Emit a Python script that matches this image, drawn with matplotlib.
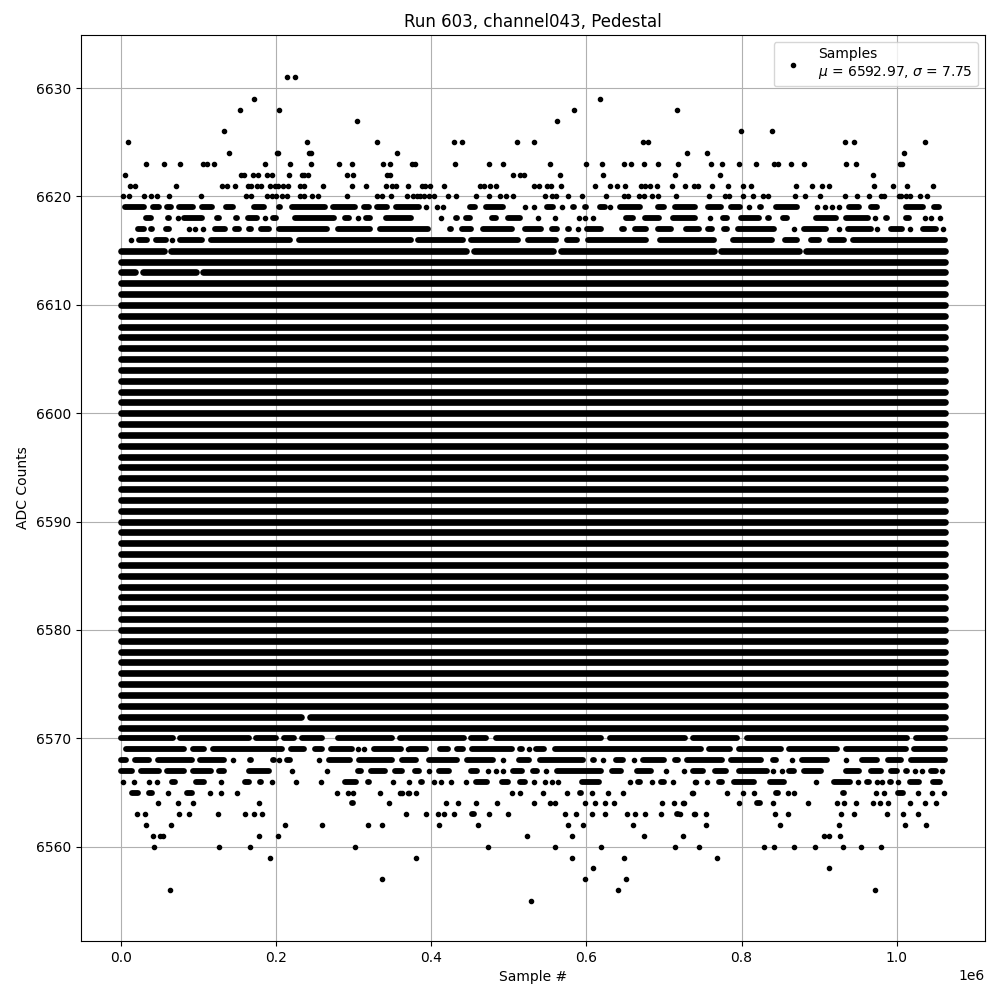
import matplotlib
matplotlib.use("Agg")
import matplotlib.pyplot as plt

# values; sample positions in thousands of samples
title = "Run 603, channel043, Pedestal"
x_label = "Sample #"
y_label = "ADC Counts"
legend_label = "Samples\n$\\mu$ = 6592.97, $\\sigma$ = 7.75"

# isolated samples, per ADC level
points = {
    6631: [214.4, 224.8],
    6629: [171.9, 617],
    6628: [153.8, 204.1, 583.6, 717],
    6627: [304.7, 562.6],
    6626: [133.2, 799.7, 839.7],
    6625: [9.5, 240.2, 330.4, 428.8, 439, 511, 532, 672.6, 679, 933.7, 945.5, 1037],
    6624: [139.7, 200.5, 202, 242.4, 244.5, 356.2, 729, 755.9, 1009.8],
    6623: [32.7, 55.9, 76.5, 105.3, 110.4, 120.3, 186, 218.3, 245.3, 281.5, 298.2, 338.2, 347.2,
           375, 379, 431, 475, 492, 552.6, 600, 619.7, 648, 658, 674, 692, 717.8, 760, 775, 797,
           818, 842, 847.4, 864, 881, 935, 947, 1004, 1007],
    6622: [5.6, 155, 158.6, 170.6, 177, 188.6, 194.7, 217, 232.9, 236.3, 241.5, 291.8, 298.6,
           343.3, 346.8, 505, 514.8, 520, 565.5, 621, 714, 772.6, 970],
    6621: [12, 17.6, 71.3, 130.6, 137, 147.4, 163.7, 167, 175.7, 180, 192.5, 198.5, 202.8, 209.3,
           214.9, 230.7, 235.9, 260.8, 298.2, 316.3, 342, 349.8, 354.5, 369.5, 388, 392, 398, 417,
           463, 467.5, 476, 483.4, 532, 538.5, 549, 554, 566.8, 610.7, 631, 639, 649.4, 670.5,
           676, 682.5, 690.7, 710, 727.5, 739, 744, 762, 783, 802, 812.6, 870.6, 891, 904, 913,
           971, 995.6, 1013.7, 1047],
    6620: [3, 9.9, 30, 39.1, 46.8, 62.3, 103.6, 161.6, 167.2, 188.6, 194.2, 199.8, 207.1, 214.4,
           230.7, 235.9, 246.6, 254.4, 291.8, 330.4, 336, 347.6, 369.1, 377, 381.5, 386, 390,
           396.6, 403, 421, 431.4, 457, 475, 488, 496, 505, 546, 555.6, 560.8, 576, 594, 624.9,
           648, 653, 667.5, 674, 684, 692, 715, 758, 778, 784, 802, 814.8, 828, 834.5, 869, 882,
           901.6, 933.7, 949, 964.7, 980, 983.6, 1003.5, 1006, 1012.4, 1017.6, 1030.4, 1039.4],
    6619: [393.5, 407, 414.6, 521, 533, 568, 631, 809, 897, 908, 916, 926],
    6618: [73, 185, 305, 413, 538, 560, 590, 598, 609, 759, 972, 1036.6, 1044, 1056],
    6617: [88, 95, 106, 589, 867, 926, 974, 1017, 1060],
    6616: [12.5, 66],
    6569: [305, 313.5, 370, 525.6],
    6568: [144, 204, 254.6, 492, 621, 661, 865.5, 935],
    6567: [221, 265, 396.6, 473, 483, 492, 547.5, 702, 726, 841, 851.8, 1024, 1032, 1059],
    6566: [2, 17, 36.5, 46, 129, 195, 225, 258, 351, 370.6, 404, 413, 425, 445, 532, 547, 555.6,
           563, 656.7, 684, 711, 741, 740, 755, 896, 950.6, 974, 981.6, 1001],
    6565: [60, 115, 129, 150, 279, 292, 299.5, 334.5, 361.6, 370.6, 360, 369.5, 380, 504, 514,
           543.6, 574.6, 607, 627.5, 647, 737, 736.5, 781.7, 802, 816.5, 860, 868, 973, 983, 1027,
           1046, 1061],
    6564: [48, 74, 92.5, 178, 346, 418.5, 434, 457, 485, 532, 552.6, 560, 598, 610.7, 623.6, 635,
           698, 712.6, 725.5, 725, 797, 841, 885, 923.6, 932.6, 947, 970, 979, 989, 1017, 1036,
           1051],
    6563: [20, 31, 75, 87, 125.6, 160, 172, 181.4, 367.6, 392.7, 408, 417, 429, 474, 498.5, 572,
           586, 607, 624.5, 652, 662, 675, 696.7, 740, 721, 739, 754.6, 843, 860, 928.7, 945.5,
           988, 1008.7, 1028],
    6562: [32.7, 64.5, 212, 259.7, 317.8, 337, 409.5, 459.8, 575.9, 595, 659.7, 754.6, 850, 925,
           1011, 1038],
    6561: [41.7, 50.3, 53.8, 178.5, 203, 523, 581, 674, 724, 906.8, 913, 927.4],
    6560: [43, 126.9, 166.8, 301, 472.7, 559, 618.4, 714, 745, 829.4, 842, 868, 894, 931, 954.5,
           980],
    6559: [192.6, 379.8, 581, 648, 768.8],
    6558: [608, 913],
    6557: [335.8, 597.8, 650.7],
    6556: [63.6, 640.4, 972.6],
    6555: [528],
}

# stretches so dense that the samples merge, per ADC level: (first, last), outer edges of the dots
runs = {
    6619: [(1, 33), (37, 52), (56, 67.5), (71, 97), (101, 121), (132, 148), (154, 160), (168, 188),
           (199.5, 208.5), (210, 214), (217, 267), (270, 305), (309, 323), (326, 347), (351, 388),
           (434, 441), (446, 460), (467.5, 496), (502, 508), (545, 560), (579, 588), (594, 603),
           (614, 627), (640, 672), (676, 682.5), (689, 704), (710, 744), (753, 776.5), (783, 802),
           (819.5, 828), (841, 875), (935.5, 955), (963.5, 978.6), (993.7, 1002), (1009, 1037),
           (1045, 1058)],
    6618: [(1, 7), (12, 19), (29, 42), (57, 65), (78, 108), (120, 130), (145, 153), (160, 179),
           (192, 203), (208.5, 214), (221, 278), (284.5, 297.5), (312, 325), (338, 377),
           (401, 408), (428, 437), (441, 454), (463, 470), (475, 487), (495, 518), (521, 527),
           (575, 583), (629, 633), (648, 663), (672, 697.5), (708, 744), (772, 785), (796, 826),
           (831, 839), (850, 862.5), (882, 886), (892.6, 925), (931, 966), (983, 991),
           (1008.7, 1019), (1026, 1030)],
    6617: [(1, 5), (18, 33), (35, 44), (55, 65), (117, 138), (143, 156), (162, 171), (177, 194),
           (199.5, 269), (276, 325), (330, 399), (407, 414), (420, 429), (436.5, 454.6),
           (463, 508), (517, 545), (552, 566), (573, 581.5), (596.5, 622), (629, 635),
           (641.6, 652), (659, 680), (689, 712.6), (725, 748.5), (753, 766), (774, 785),
           (791.5, 845), (877.5, 912), (934, 970), (989, 1011), (1030, 1054)],
    6616: [(1, 7), (20, 37), (42, 61), (72, 108), (113, 222), (226, 377), (379, 444), (448, 515),
           (521, 564), (571, 592), (599, 680), (691, 768), (771, 776.5), (785, 843), (852, 874.5),
           (886, 903), (910, 935.6), (940, 1066)],
    6615: [(-4, 59), (61, 448), (452, 560), (564, 768), (770, 877.5), (880, 1066)],
    6613: [(-4, 22), (24.5, 100.5), (102, 1066)],
    6572: [(-4, 235), (240, 1066)],
    6570: [(-4, 70), (73, 168.6), (170.7, 203), (206, 226.6), (230, 263), (265, 270), (276, 353),
           (356, 446), (448, 474), (479.5, 622), (627, 731), (733.5, 798), (803, 1017),
           (1021.6, 1066)],
    6569: [(3, 85), (89, 110.5), (115, 211.6), (216, 239.5), (246, 263), (267, 302), (323, 364),
           (369, 396.6), (407, 424.5), (430, 444), (448.6, 508), (511, 520), (532, 549),
           (556, 751), (755, 789), (793.7, 854), (857, 927), (931, 1015), (1019, 1066)],
    6568: [(-4, 9.5), (14, 40), (44, 95.5), (98.5, 136), (163, 171), (181, 188), (192, 201),
           (210, 222), (226.6, 234), (265, 299), (303, 353), (358, 383.6), (393.5, 437),
           (442, 482.5), (509.6, 529), (536, 598.6), (605, 613), (635, 651), (669, 704),
           (710, 721), (725.5, 778.6), (783, 828), (837, 847.5), (851.8, 860), (874, 914),
           (923, 929), (952, 978.6), (985, 1009), (1015, 1066)],
    6567: [(-4, 18), (22, 52), (55.5, 85), (89, 119), (123, 136), (143, 151), (161, 195), (204, 209),
           (244, 249), (279, 286), (302, 313), (319, 343.6), (349, 366), (360, 366), (375, 388),
           (406, 427), (436.5, 442), (448, 462), (502, 520), (527, 540), (559, 623), (629, 648),
           (661, 687), (710, 718), (734, 754), (762, 783), (793, 836), (858, 871), (877.5, 905.5),
           (918, 925), (931, 955), (963.6, 983), (989, 1004), (1009, 1017), (1041, 1054)],
    6566: [(62, 72.6), (93, 111), (143.6, 149), (156.5, 168.6), (175, 183.6), (207, 214),
           (284.6, 306), (315, 323.4), (371, 377), (383, 391), (454, 475), (488, 503), (511, 524),
           (574, 581), (591, 620), (630, 637), (663, 673), (692, 704), (767, 778.6), (787, 820),
           (833, 858), (868, 875), (882, 888), (916, 944), (958, 968), (988, 996), (1013, 1032),
           (1043, 1060)],
    6565: [(10, 25), (32, 44), (81, 95), (188, 196), (222, 227), (313, 317), (420, 427), (455, 459),
           (588, 596.5), (677, 682), (705, 710), (751.6, 757), (841, 850), (892.6, 896), (927, 935),
           (998, 1012), (1035, 1039)],
    6564: [(10, 17), (101, 106), (158.6, 163), (294, 303), (492, 497.6), (570, 573), (581.5, 586.6),
           (757, 761.5), (816, 827), (910, 915)],
    6563: [(50, 55.5), (368, 375), (449.4, 458), (712.6, 721), (890, 895)],
}

# levels where the samples form an unbroken band
solid_levels = [6571, 6614] + list(range(6573, 6613))
first_sample = 0
last_sample = 1062

DOT_RADIUS_K = 3.6  # half a dot on the x axis, in thousands of samples

fig = plt.figure(figsize=(10, 10), dpi=100)
ax = fig.add_axes([0.081, 0.059, 0.904, 0.906])

for level in solid_levels:
    ax.hlines(level, first_sample * 1e3, last_sample * 1e3, colors="k", linewidth=4.8,
              capstyle="round", zorder=2)
for level, stretches in runs.items():
    lw = 4.8 if level in (6615, 6613, 6572) else 4.2
    for first, last in stretches:
        mid = (first + last) / 2
        a = min(first + DOT_RADIUS_K, mid)
        b = max(last - DOT_RADIUS_K, mid)
        ax.hlines(level, a * 1e3, b * 1e3, colors="k", linewidth=lw,
                  capstyle="round", zorder=2)

label = legend_label
for level, xs in points.items():
    ax.plot([x * 1e3 for x in xs], [level] * len(xs), "k.", linestyle="none", label=label)
    label = None

ax.set_xlim(-51.6e3, 1113.8e3)
ax.set_ylim(6551.3, 6634.9)
ax.set_title(title)
ax.set_xlabel(x_label)
ax.set_ylabel(y_label)
ax.grid(True)
ax.legend(loc="upper right")
fig.savefig("out.png", dpi=100)
